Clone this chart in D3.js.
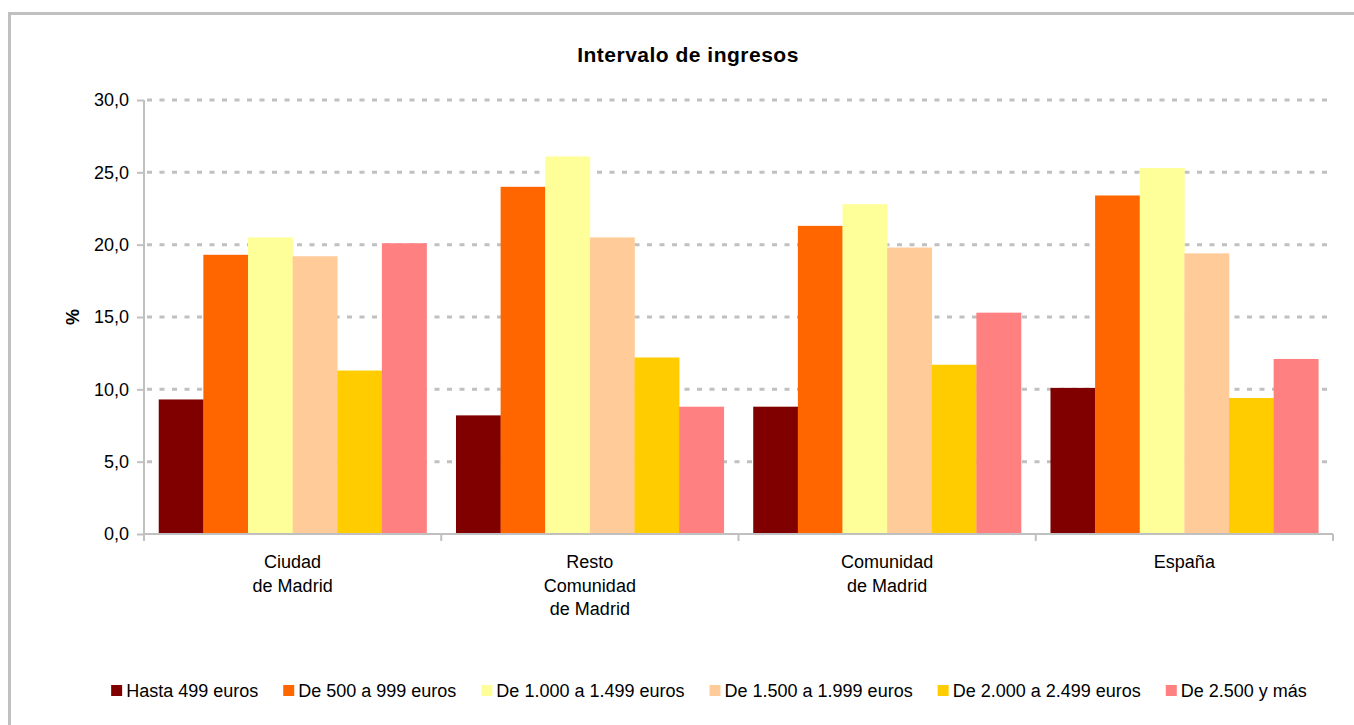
<!DOCTYPE html>
<html><head><meta charset="utf-8">
<script src="https://cdn.jsdelivr.net/npm/d3@7"></script>
<style>body{margin:0;background:#fff;}svg{display:block;font-family:"Liberation Sans",Arial,sans-serif;}</style>
</head><body>
<svg id="chart" width="1354" height="725"></svg>
<script>
const categories = [["Ciudad","de Madrid"],["Resto","Comunidad","de Madrid"],["Comunidad","de Madrid"],["España"]];
const seriesNames = ["Hasta 499 euros","De 500 a 999 euros","De 1.000 a 1.499 euros","De 1.500 a 1.999 euros","De 2.000 a 2.499 euros","De 2.500 y más"];
const seriesColors = ["#800000","#ff6600","#ffff99","#ffcc99","#ffcc00","#ff8080"];
const hasta499 = [9.3, 8.2, 8.8, 10.1];
const de500a999 = [19.3, 24.0, 21.3, 23.4];
const de1000a1499 = [20.5, 26.1, 22.8, 25.3];
const de1500a1999 = [19.2, 20.5, 19.8, 19.4];
const de2000a2499 = [11.3, 12.2, 11.7, 9.4];
const de2500ymas = [20.1, 8.8, 15.3, 12.1];
const yTicks = [0,5,10,15,20,25,30];
const title = "Intervalo de ingresos";
const yLabel = "%";

const series = [hasta499,de500a999,de1000a1499,de1500a1999,de2000a2499,de2500ymas];
const svg = d3.select("#chart");
const L=144, R=1333, T=100, B=534;
const grey="#c0c0c0";
const FS = 18;

// frame
svg.append("rect").attr("x",9.5).attr("y",13.5).attr("width",1400).attr("height",800)
  .attr("fill","none").attr("stroke",grey).attr("stroke-width",3);

const x0 = d3.scaleBand().domain(d3.range(categories.length)).range([L,R]).paddingInner(0).paddingOuter(0);
const x1 = d3.scaleBand().domain(d3.range(series.length)).range([0,x0.bandwidth()]).paddingInner(0).paddingOuter(0.33);
const y = d3.scaleLinear().domain([0,30]).range([B,T]);

// gridlines
svg.append("g").selectAll("line").data(yTicks.filter(d=>d>0)).join("line")
  .attr("x1",L+3).attr("x2",R).attr("y1",d=>y(d)).attr("y2",d=>y(d))
  .attr("stroke",grey).attr("stroke-width",3).attr("stroke-dasharray","5,7.5");

// bars
const gs = svg.append("g");
series.forEach((vals,si)=>{
  gs.append("g").selectAll("rect").data(vals).join("rect")
    .attr("x",(d,ci)=>x0(ci)+x1(si))
    .attr("width",x1.bandwidth()+0.3)
    .attr("y",d=>y(d)).attr("height",d=>B-y(d))
    .attr("fill",seriesColors[si]);
});

// y axis
const yAxis = d3.axisLeft(y).tickValues(yTicks).tickSize(7).tickPadding(8)
  .tickFormat(d=>d3.format(".1f")(d).replace(".",","));
const gy = svg.append("g").attr("transform",`translate(${L},0)`).call(yAxis);
gy.select(".domain").attr("stroke",grey).attr("stroke-width",2).attr("d",`M0,${T}V${B}`);
gy.selectAll(".tick line").attr("stroke",grey).attr("stroke-width",2);
gy.selectAll(".tick text").attr("font-size",FS).attr("fill","#000").attr("font-family","Liberation Sans, Arial, sans-serif");

// x axis
const xEdges = d3.range(categories.length+1).map(i=> i<categories.length ? x0(i) : R);
svg.append("line").attr("x1",L).attr("x2",R).attr("y1",B).attr("y2",B).attr("stroke",grey).attr("stroke-width",2);
svg.append("g").selectAll("line").data(xEdges).join("line")
  .attr("x1",d=>d).attr("x2",d=>d).attr("y1",B).attr("y2",B+7).attr("stroke",grey).attr("stroke-width",2);

// category labels
categories.forEach((lines,ci)=>{
  const t = svg.append("text").attr("text-anchor","middle").attr("font-size",FS).attr("fill","#000");
  lines.forEach((ln,li)=>{
    t.append("tspan").attr("x",x0(ci)+x0.bandwidth()/2).attr("y",568+li*23.5).text(ln);
  });
});

// title
svg.append("text").attr("x",688).attr("y",62).attr("text-anchor","middle")
  .attr("font-size",21).attr("letter-spacing","0.5px").attr("font-weight","bold").attr("fill","#000").text(title);
// y label
svg.append("text").attr("transform","translate(79,317) rotate(-90)").attr("text-anchor","middle")
  .attr("font-size",FS).attr("font-weight","bold").attr("fill","#000").text(yLabel);

// legend
const lg = svg.append("g");
let lx = 0;
seriesNames.forEach((n,i)=>{
  const g = lg.append("g").attr("transform",`translate(${lx},0)`);
  g.append("rect").attr("x",0).attr("y",-12).attr("width",11).attr("height",11).attr("fill",seriesColors[i]);
  const t = g.append("text").attr("x",15).attr("y",0).attr("font-size",FS).attr("fill","#000").text(n);
  const w = t.node().getComputedTextLength();
  lx += 15 + w + 25;
});
const totalW = lx - 25;
lg.attr("transform",`translate(${709-totalW/2},697)`);
</script>
</body></html>
